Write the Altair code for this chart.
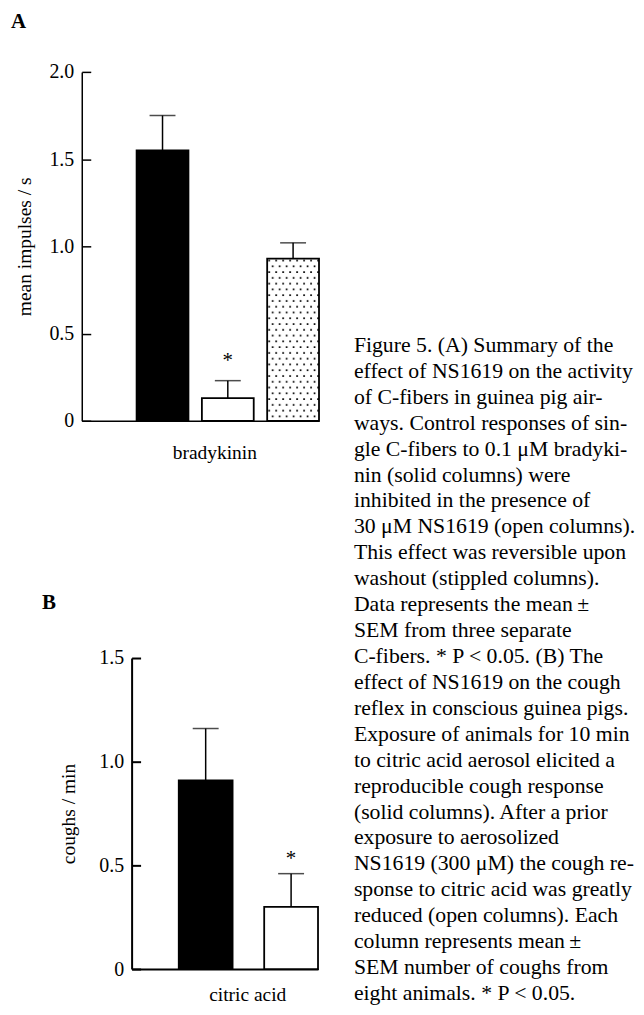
import base64
import altair as alt
import pandas as pd

FONT = "Liberation Serif"

# ---------------- data ----------------
treat_a = ["control", "NS1619", "washout"]
mean_a = [1.55, 0.13, 0.93]
sem_a = [0.20, 0.10, 0.09]
sig_a = ["", "*", ""]
ticks_a = [0, 0.5, 1.0, 1.5, 2.0]

treat_b = ["control", "NS1619"]
mean_b = [0.91, 0.30]
sem_b = [0.25, 0.16]
sig_b = ["", "*"]
ticks_b = [0, 0.5, 1.0, 1.5]

caption_lines = [
    "Figure 5. (A) Summary of the",
    "effect of NS1619 on the activity",
    "of C-fibers in guinea pig air-",
    "ways. Control responses of sin-",
    "gle C-fibers to 0.1 \u03bcM bradyki-",
    "nin (solid columns) were",
    "inhibited in the presence of",
    "30 \u03bcM NS1619 (open columns).",
    "This effect was reversible upon",
    "washout (stippled columns).",
    "Data represents the mean\u2009\u00b1",
    "SEM from three separate",
    "C-fibers. * P < 0.05. (B) The",
    "effect of NS1619 on the cough",
    "reflex in conscious guinea pigs.",
    "Exposure of animals for 10 min",
    "to citric acid aerosol elicited a",
    "reproducible cough response",
    "(solid columns). After a prior",
    "exposure to aerosolized",
    "NS1619 (300 \u03bcM) the cough re-",
    "sponse to citric acid was greatly",
    "reduced (open columns). Each",
    "column represents mean\u2009\u00b1",
    "SEM number of coughs from",
    "eight animals. * P < 0.05.",
]


def stipple_uri(w, h):
    svg = (
        f"<svg xmlns='http://www.w3.org/2000/svg' width='{w}' height='{h}' "
        f"viewBox='0 0 {w} {h}' preserveAspectRatio='none'>"
        "<defs><pattern id='d' width='7' height='11.6' patternUnits='userSpaceOnUse'>"
        "<rect x='1.2' y='1.2' width='1.7' height='1.7' fill='#000'/>"
        "<rect x='4.7' y='7' width='1.7' height='1.7' fill='#000'/>"
        "</pattern></defs>"
        f"<rect width='{w}' height='{h}' fill='#fff'/>"
        f"<rect width='{w}' height='{h}' fill='url(#d)'/></svg>"
    )
    return "data:image/svg+xml;base64," + base64.b64encode(svg.encode()).decode()


def panel(treats, means, sems, sigs, ticks, ymax, width, height, ytitle,
          xtitle, letter, pad_in, pad_out, xtitle_x, xtitle_pad, ytitle_pad,
          line_w, letter_dx, letter_offset, star_dy):
    df = pd.DataFrame({
        "treatment": treats,
        "mean": means,
        "upper": [m + s for m, s in zip(means, sems)],
        "sig": sigs,
    })
    xscale = alt.Scale(domain=treats, paddingInner=pad_in,
                       paddingOuter=pad_out, align=1)
    yscale = alt.Scale(domain=[0, ymax], nice=False, zero=True)

    x_main = alt.X(
        "treatment:N", sort=treats, scale=xscale,
        axis=alt.Axis(labels=False, ticks=False, domain=True,
                      domainColor="black", domainWidth=line_w, grid=False,
                      title=xtitle, titleX=xtitle_x, titlePadding=xtitle_pad,
                      titleFont=FONT, titleFontSize=19.5,
                      titleFontWeight="normal", titleColor="black",
                      titleBaseline="top"))
    x_plain = alt.X("treatment:N", sort=treats, scale=xscale)

    y_axis = alt.Axis(
        orient="left", values=ticks,
        labelExpr="datum.value == 0 ? '0' : format(datum.value, '.1f')",
        ticks=False, grid=False, domainColor="black", domainWidth=line_w,
        labelFont=FONT, labelFontSize=20, labelColor="black", labelPadding=8,
        title=ytitle, titleFont=FONT, titleFontSize=19.5,
        titleFontWeight="normal", titleColor="black", titlePadding=ytitle_pad)
    tick_axis = alt.Axis(
        orient="left", values=ticks, offset=-9, labels=False, domain=False,
        ticks=True, tickSize=9, tickWidth=line_w, tickColor="black",
        grid=False, title=None)

    base = alt.Chart(df)
    layers = []
    if "washout" in treats:
        img = base.transform_filter(alt.datum.treatment == "washout").mark_image(
            aspect=False).encode(
            x=x_plain,
            y=alt.Y("mean:Q", scale=yscale, axis=None),
            y2=alt.datum(0),
            url=alt.value(stipple_uri(52, 163)),
        )
        layers.append(img)

    bars = base.mark_bar(stroke="black", strokeWidth=1.8).encode(
        x=x_main,
        y=alt.Y("mean:Q", scale=yscale, axis=y_axis),
        fill=alt.Fill("treatment:N",
                      scale=alt.Scale(domain=["control", "NS1619", "washout"],
                                      range=["black", "white", "transparent"]),
                      legend=None),
    )
    stems = base.mark_rule(color="black", strokeWidth=1.5).encode(
        x=x_plain,
        y=alt.Y("mean:Q", scale=yscale, axis=tick_axis),
        y2="upper:Q",
    )
    caps = base.mark_tick(orient="horizontal", size=26, thickness=1.5,
                          color="black").encode(
        x=x_plain, y=alt.Y("upper:Q", scale=yscale, axis=None))
    stars = base.mark_text(font=FONT, fontSize=21, baseline="bottom",
                           dy=star_dy, color="black").encode(
        x=x_plain, y=alt.Y("upper:Q", scale=yscale, axis=None), text="sig:N")

    layers += [bars, stems, caps, stars]
    return alt.layer(*layers).resolve_axis(y="independent").properties(
        width=width, height=height,
        title=alt.TitleParams(letter, anchor="start", frame="group",
                              dx=letter_dx, offset=letter_offset,
                              font=FONT, fontSize=21, fontWeight="bold",
                              color="black"))


chart_a = panel(treat_a, mean_a, sem_a, sig_a, ticks_a, 2.0, 238, 350,
                "mean impulses / s", "bradykinin", "A", 0.206, 0.42, 133, 23,
                14, 1.5, -71, 30, -10)
chart_b = panel(treat_b, mean_b, sem_b, sig_b, ticks_b, 1.5, 187, 312,
                "coughs / min", "citric acid", "B", 0.37, 0.276, 116, 17,
                20, 2.0, -90, 35, -5)

spacer = alt.Chart(pd.DataFrame({"v": [0]})).mark_point(opacity=0).encode(
    x=alt.X("v:Q", axis=None), y=alt.Y("v:Q", axis=None)
).properties(width=14, height=312)

cap_df = pd.DataFrame({"line": list(range(len(caption_lines))),
                       "text": caption_lines})
caption = alt.Chart(cap_df).mark_text(
    align="left", baseline="alphabetic", font=FONT, fontSize=21.8,
    color="black").encode(
    x=alt.value(0),
    y=alt.Y("line:Q", scale=alt.Scale(domain=[0, 25], range=[-307, 343]),
            axis=None),
    text="text:N",
).properties(width=250, height=312)

row_b = alt.hconcat(spacer, chart_b, caption, spacing=36, bounds="flush")
chart = alt.vconcat(chart_a, row_b, spacing=238, bounds="flush").properties(
    padding={"left": 3, "top": 1.5, "right": 0, "bottom": 0}
).configure(background="white", view=alt.ViewConfig(stroke=None))

chart.save("out.html", embed_options={"renderer": "svg", "actions": False})
